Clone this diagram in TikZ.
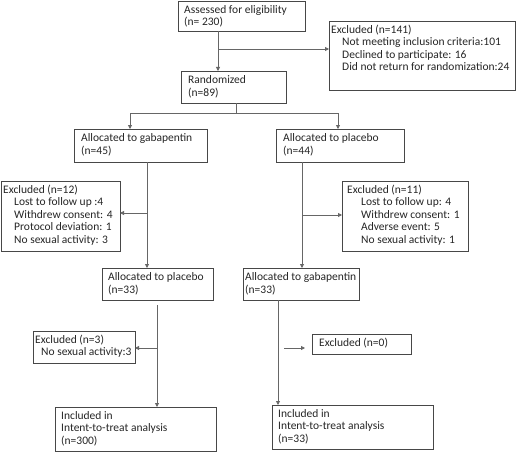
\documentclass[tikz,border=0pt]{standalone}
\usepackage{fontspec}
\setmainfont{Carlito}
\usetikzlibrary{arrows.meta}
\begin{document}
\begin{tikzpicture}[x=1pt,y=-1pt,
  box/.style={draw=black!72,line width=0.9pt,inner sep=0pt,outer sep=0pt,anchor=north west},
  txt/.style={anchor=north west,inner sep=0pt,align=left,text=black!85,font=\fontsize{11.5}{12.5}\selectfont},
  conn/.style={draw=black!60,line width=0.8pt},
  arr/.style={conn,-{Triangle[length=4pt,width=4pt]}}]
\useasboundingbox (0,0) rectangle (517,452);
\fill[white] (0,0) rectangle (517,452);
% boxes
\node[box,minimum width=127pt,minimum height=30pt] (A) at (178,1) {};
\node[box,minimum width=186pt,minimum height=69pt] (E1) at (329,21) {};
\node[box,minimum width=105pt,minimum height=32pt] (R) at (181,71) {};
\node[box,minimum width=133pt,minimum height=33pt] (G1) at (74,129) {};
\node[box,minimum width=128pt,minimum height=33pt] (P1) at (276,129) {};
\node[box,minimum width=119pt,minimum height=70pt] (E12) at (1,181) {};
\node[box,minimum width=126pt,minimum height=70pt] (E11) at (342,181) {};
\node[box,minimum width=111pt,minimum height=32pt] (P2) at (102,268) {};
\node[box,minimum width=116pt,minimum height=32pt] (G2) at (243,268) {};
\node[box,minimum width=102pt,minimum height=32pt] (E3) at (33,331) {};
\node[box,minimum width=99pt,minimum height=20pt] (E0) at (312,334) {};
\node[box,minimum width=161pt,minimum height=44pt] (I300) at (55,407) {};
\node[box,minimum width=161pt,minimum height=44pt] (I33) at (272,405) {};
% texts
\node[txt] (At) at (184,4.5) {\strut Assessed for eligibility\\(n= 230)};
\node[txt] (E1t) at (331,24.5) {\strut Excluded (n=141)\\\hspace*{11pt}Not meeting inclusion criteria:101\\\hspace*{11pt}Declined to participate: 16\\\hspace*{11pt}Did not return for randomization:24};
\node[txt] (Rt) at (188,75) {\strut Randomized\\(n=89)};
\node[txt] (G1t) at (81,133) {\strut Allocated to gabapentin\\(n=45)};
\node[txt] (P1t) at (283,133) {\strut Allocated to placebo\\(n=44)};
\node[txt] (E12t) at (3,184.5) {\strut Excluded (n=12)\\\hspace*{11pt}Lost to follow up :4\\\hspace*{11pt}Withdrew consent: 4\\\hspace*{11pt}Protocol deviation: 1\\\hspace*{11pt}No sexual activity: 3};
\node[txt] (E11t) at (347,184.5) {\strut Excluded (n=11)\\\hspace*{14pt}Lost to follow up: 4\\\hspace*{14pt}Withdrew consent: 1\\\hspace*{14pt}Adverse event: 5\\\hspace*{14pt}No sexual activity: 1};
\node[txt] (P2t) at (108,272) {\strut Allocated to placebo\\(n=33)};
\node[txt] (G2t) at (245,272) {\strut Allocated to gabapentin\\(n=33)};
\node[txt] (E3t) at (35,334.5) {\strut Excluded (n=3)\\\hspace*{6pt}No sexual activity:3};
\node[txt] (E0t) at (319,338) {\strut Excluded (n=0)};
\node[txt] (I300t) at (61,410.5) {\strut Included in\\Intent-to-treat analysis\\(n=300)};
\node[txt] (I33t) at (278,408.5) {\strut Included in\\Intent-to-treat analysis\\(n=33)};
% connectors
\coordinate (a1) at (218,49);
\draw[arr] (A.south -| a1) -- (R.north -| a1);
\draw[arr] (a1) -- (E1.west |- a1);
\coordinate (r1) at (236,113);
\coordinate (g1) at (130,113);
\coordinate (p1) at (338,113);
\draw[conn] (R.south -| r1) -- (r1);
\draw[conn] (g1) -- (p1);
\draw[arr] (g1) -- (G1.north -| g1);
\draw[arr] (p1) -- (P1.north -| p1);
\coordinate (b1) at (147,213);
\draw[arr] (G1.south -| b1) -- (P2.north -| b1);
\draw[arr] (b1) -- (E12.east |- b1);
\coordinate (b2) at (302,215);
\draw[arr] (P1.south -| b2) -- (G2.north -| b2);
\draw[arr] (b2) -- (E11.west |- b2);
\coordinate (b3) at (157,348);
\coordinate (b3s) at (157,305);
\draw[arr] (b3s) -- (I300.north -| b3);
\draw[arr] (b3) -- (E3.east |- b3);
\coordinate (b4) at (278,348);
\draw[arr] (G2.south -| b4) -- (I33.north -| b4);
\coordinate (f0) at (284,348);
\draw[arr,shorten >=7pt] (f0) -- (E0.west |- f0);
\end{tikzpicture}
\end{document}
